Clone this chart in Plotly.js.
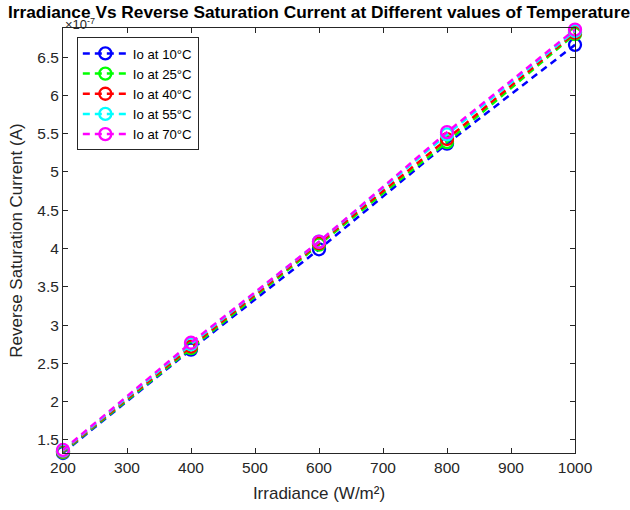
<!DOCTYPE html>
<html>
<head>
<meta charset="utf-8">
<script src="https://cdn.plot.ly/plotly-3.0.1.min.js"></script>
<style>html,body{margin:0;padding:0;background:#fff;}#chart{width:630px;height:510px;}</style>
</head>
<body>
<div id="chart"></div>
<script>
var irradiance = [200, 400, 600, 800, 1000];
var io10 = [1.33, 2.68, 3.99, 5.37, 6.66];
var io25 = [1.34, 2.70, 4.05, 5.39, 6.80];
var io40 = [1.35, 2.72, 4.07, 5.43, 6.82];
var io55 = [1.36, 2.75, 4.09, 5.49, 6.84];
var io70 = [1.37, 2.77, 4.09, 5.52, 6.86];
var seriesNames = ['Io at 10°C', 'Io at 25°C', 'Io at 40°C', 'Io at 55°C', 'Io at 70°C'];
var seriesColors = ['#0000ff', '#00ff00', '#ff0000', '#00ffff', '#ff00ff'];
var xTicks = [200, 300, 400, 500, 600, 700, 800, 900, 1000];
var yTicks = [1.5, 2, 2.5, 3, 3.5, 4, 4.5, 5, 5.5, 6, 6.5];
var yTickText = ['1.5', '2', '2.5', '3', '3.5', '4', '4.5', '5', '5.5', '6', '6.5'];

var FONT = 'Liberation Sans, Arial, sans-serif';
var allSeries = [io10, io25, io40, io55, io70];
var traces = allSeries.map(function (ys, i) {
  return {
    x: irradiance, y: ys, name: seriesNames[i],
    type: 'scatter', mode: 'lines+markers', cliponaxis: false,
    line: {color: seriesColors[i], width: 2.5, dash: '7px,5px'},
    marker: {symbol: 'circle-open', size: 12, color: seriesColors[i], line: {width: 2.3, color: seriesColors[i]}}
  };
});

var axisCommon = {
  showline: true, linecolor: '#262626', linewidth: 1, mirror: 'ticks',
  ticks: 'inside', ticklen: 5, tickcolor: '#262626', showgrid: false, zeroline: false,
  tickfont: {family: FONT, size: 15.5, color: '#262626'}
};

var layout = {
  width: 630, height: 510,
  paper_bgcolor: '#ffffff', plot_bgcolor: '#ffffff',
  margin: {l: 63, r: 55, t: 28, b: 57},
  title: {text: '<b>Irradiance Vs Reverse Saturation Current at Different values of Temperature</b>',
          font: {family: FONT, size: 17.3, color: '#000'},
          x: 0.5, xanchor: 'center', y: 0.976, yanchor: 'middle', xref: 'paper'},
  xaxis: Object.assign({}, axisCommon, {
    range: [200, 1000], tickvals: xTicks,
    title: {text: 'Irradiance (W/m²)', standoff: 12, font: {family: FONT, size: 17, color: '#262626'}}
  }),
  yaxis: Object.assign({}, axisCommon, {
    range: [1.33, 6.88], tickvals: yTicks, ticktext: yTickText,
    title: {text: 'Reverse Saturation Current (A)', standoff: 10, font: {family: FONT, size: 17, color: '#262626'}}
  }),
  legend: {
    x: 0.027, y: 0.978, xanchor: 'left', yanchor: 'top',
    bgcolor: '#ffffff', bordercolor: '#262626', borderwidth: 1,
    font: {family: FONT, size: 13.2, color: '#000'},
    tracegroupgap: 0, itemwidth: 45
  },
  annotations: [{
    text: '×10<sup>-7</sup>', xref: 'paper', yref: 'paper', x: 0, y: 1.0, xanchor: 'left', yanchor: 'bottom',
    showarrow: false, font: {family: FONT, size: 13, color: '#262626'}, yshift: -6
  }],
  showlegend: true
};

Plotly.newPlot('chart', traces, layout, {displayModeBar: false, staticPlot: true});
</script>
</body>
</html>
